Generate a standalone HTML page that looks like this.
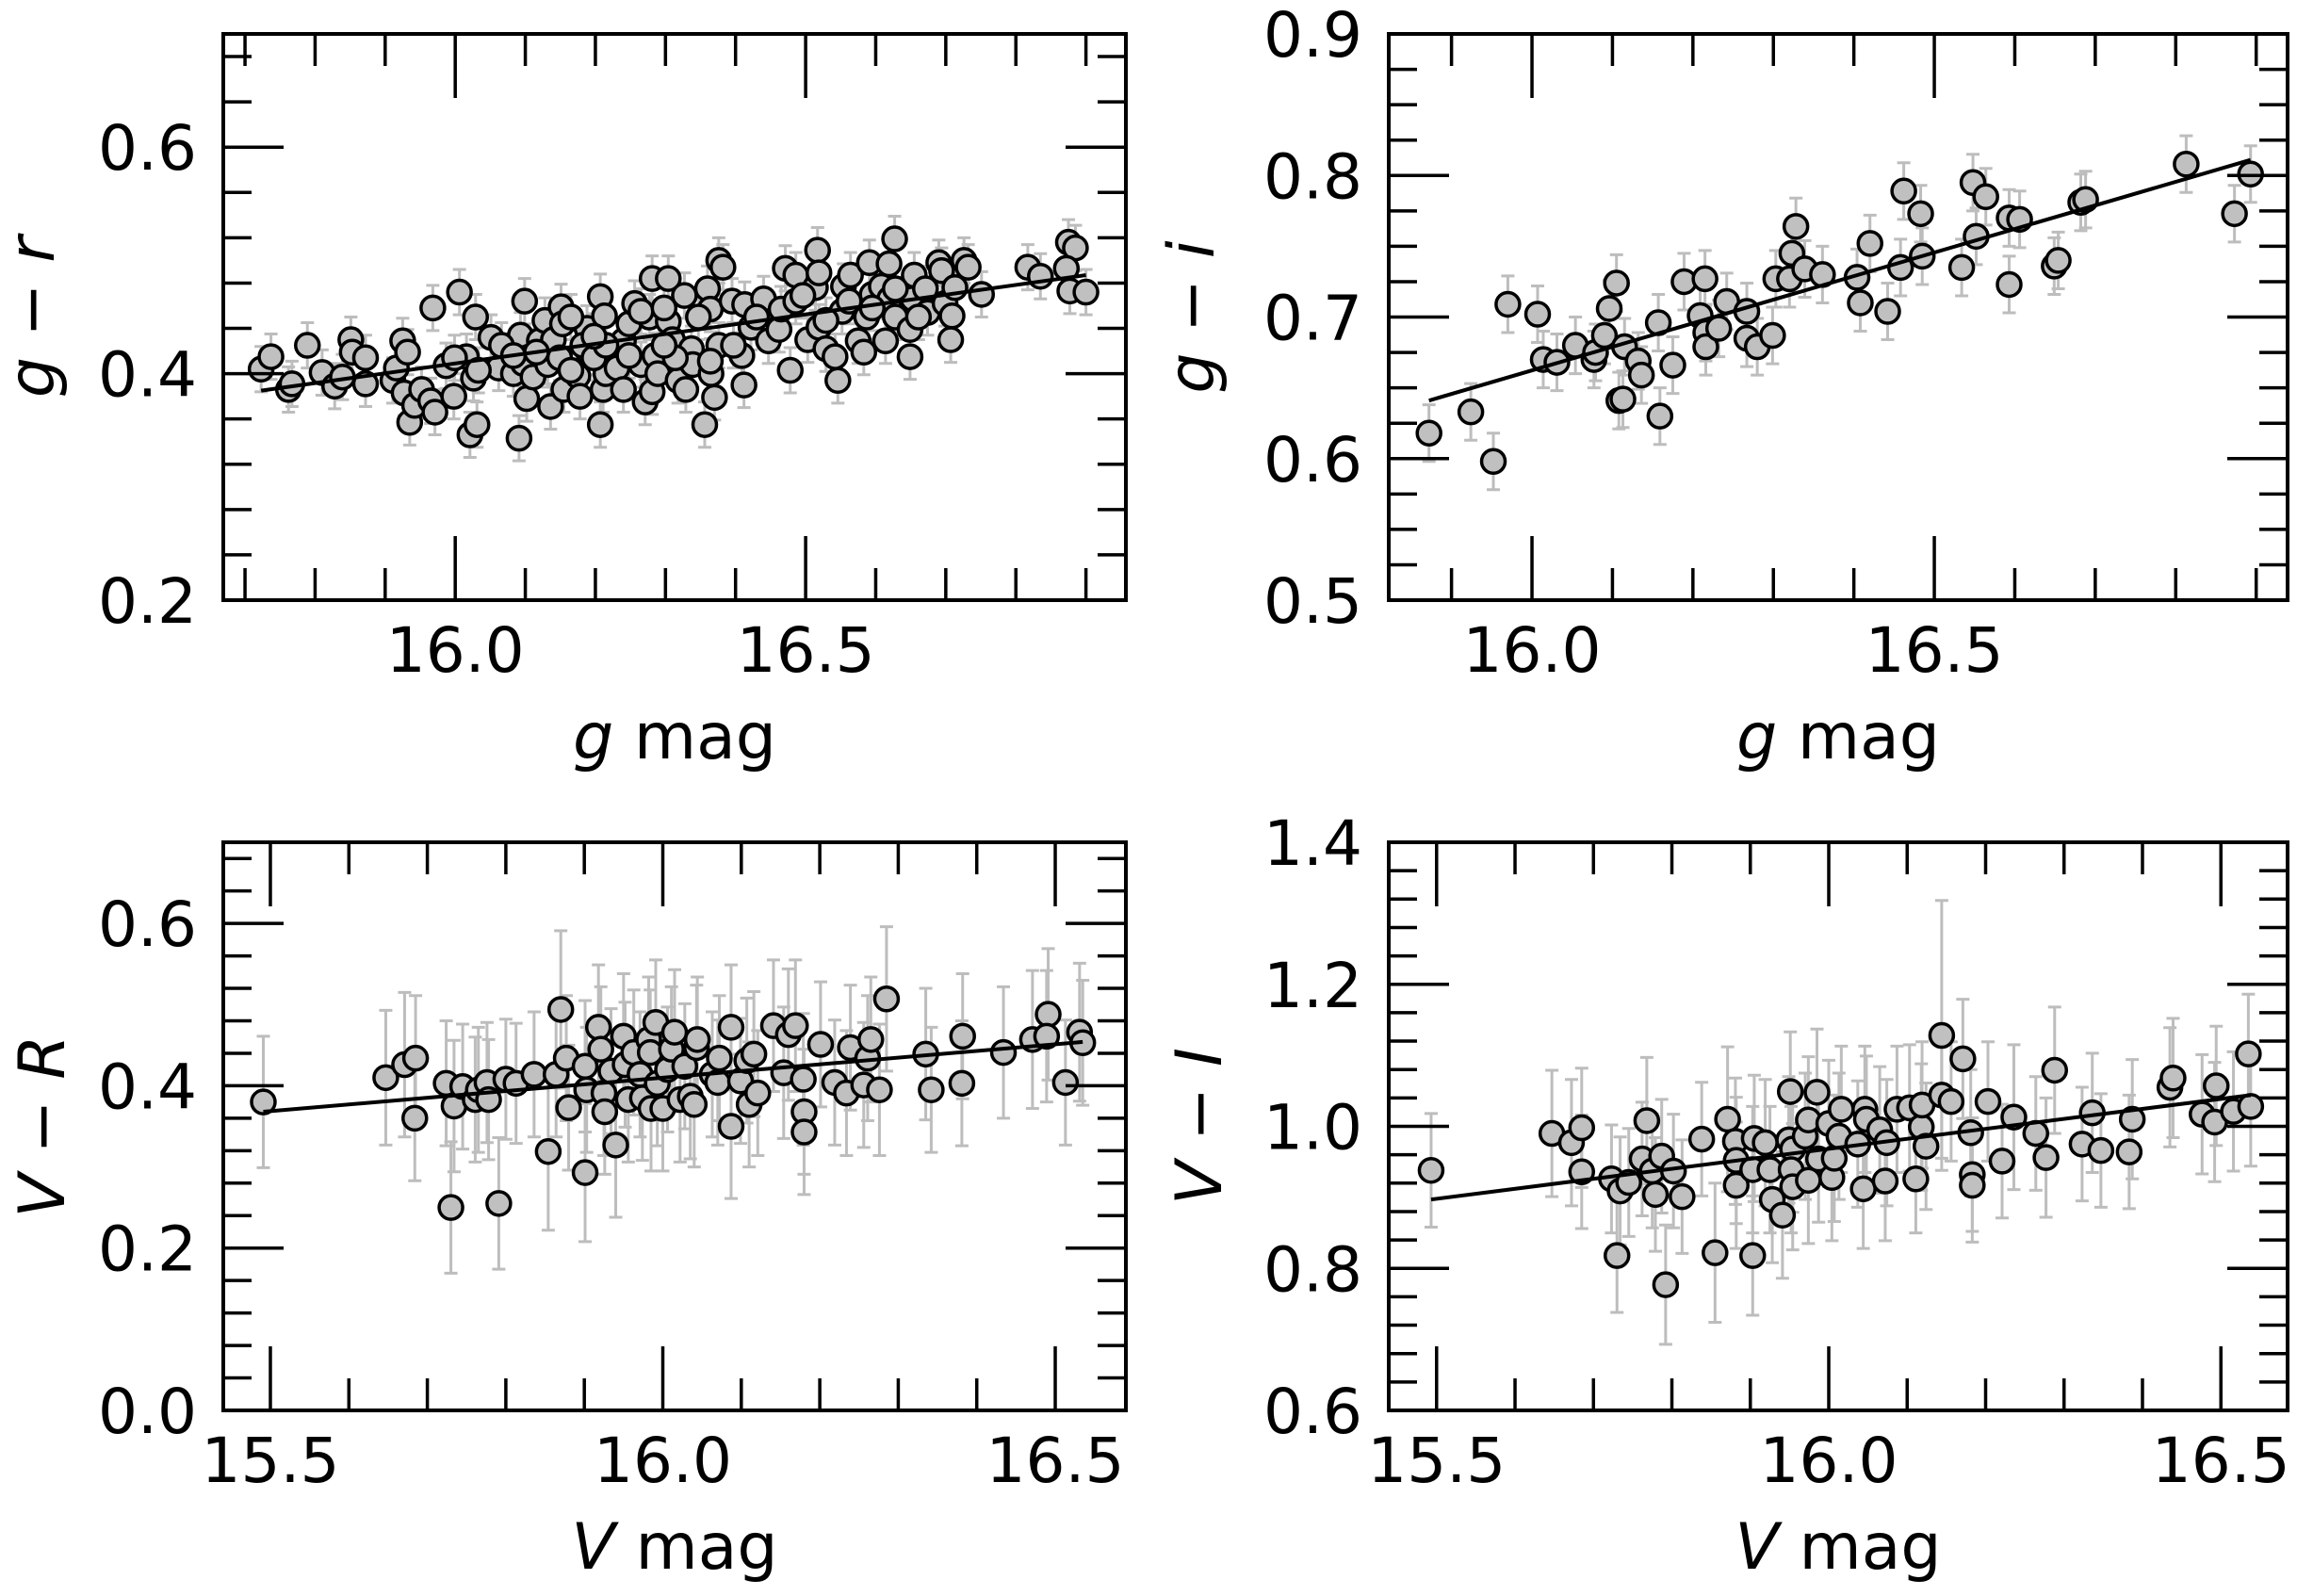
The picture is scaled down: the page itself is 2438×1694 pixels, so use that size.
<!DOCTYPE html>
<html><head><meta charset="utf-8"><style>
html,body{margin:0;padding:0;background:#fff;}
svg{display:block;}
text{font-family:"DejaVu Sans","Liberation Sans",sans-serif;fill:#000;}
</style></head><body>
<svg id="fig" width="2438" height="1694" viewBox="0 0 2438 1694" xmlns="http://www.w3.org/2000/svg"></svg>
<script>
// ---- Panel A: g-r vs g ----
const grX = [15.723,15.737,15.762,15.767,15.789,15.810,15.828,15.839,15.851,15.853,15.872,15.872,15.911,15.916,15.925,15.932,15.927,15.935,15.942,15.952,15.965,15.971,15.968,15.987,15.998,16.006,16.016,16.026,16.029,16.021,16.031,16.051,16.062,16.083,16.091,16.093,16.097,16.099,16.102,16.111,16.120,16.128,16.132,16.136,16.140,16.151,16.153,16.155,16.175,16.178,16.188,16.190,16.207,16.207,16.211,16.213,16.215,16.231,16.240,16.248,16.256,16.265,16.271,16.277,16.281,16.281,16.285,16.289,16.304,16.304,16.310,16.318,16.327,16.329,16.337,16.339,16.356,16.360,16.364,16.365,16.370,16.376,16.382,16.376,16.395,16.409,16.412,16.413,16.422,16.440,16.447,16.462,16.465,16.471,16.478,16.486,16.486,16.503,16.514,16.517,16.519,16.519,16.529,16.542,16.546,16.552,16.554,16.564,16.575,16.583,16.587,16.591,16.595,16.608,16.614,16.619,16.620,16.627,16.628,16.649,16.649,16.653,16.655,16.671,16.674,16.690,16.694,16.699,16.707,16.709,16.713,16.726,16.732,16.751,16.817,16.835,16.875,16.885,16.872,16.877,16.900,16.066,16.116,16.165,16.182,16.198,16.215,16.248,16.265,16.298,16.314,16.347,16.364,16.397,16.430,16.496,16.529,16.562,16.595,16.628,16.661,16.033,16.083,15.999,16.149,16.298,16.240,16.198,16.165];
const grY = [0.404,0.415,0.386,0.391,0.425,0.401,0.389,0.397,0.430,0.419,0.414,0.391,0.394,0.405,0.429,0.419,0.383,0.357,0.372,0.386,0.376,0.366,0.458,0.407,0.380,0.472,0.415,0.396,0.450,0.346,0.355,0.432,0.405,0.400,0.343,0.434,0.409,0.464,0.378,0.397,0.429,0.447,0.408,0.371,0.430,0.459,0.444,0.386,0.398,0.380,0.440,0.419,0.468,0.355,0.386,0.451,0.400,0.405,0.429,0.444,0.462,0.408,0.375,0.450,0.484,0.384,0.416,0.400,0.484,0.446,0.430,0.394,0.469,0.386,0.422,0.408,0.355,0.475,0.457,0.400,0.379,0.500,0.494,0.425,0.464,0.416,0.390,0.461,0.441,0.466,0.429,0.439,0.457,0.493,0.403,0.487,0.464,0.430,0.476,0.509,0.489,0.441,0.422,0.415,0.394,0.455,0.477,0.487,0.429,0.419,0.450,0.498,0.470,0.477,0.429,0.497,0.466,0.519,0.450,0.439,0.415,0.466,0.487,0.475,0.454,0.498,0.491,0.462,0.430,0.451,0.476,0.500,0.494,0.470,0.494,0.486,0.516,0.511,0.493,0.473,0.472,0.425,0.419,0.450,0.425,0.414,0.425,0.416,0.455,0.458,0.414,0.450,0.411,0.425,0.450,0.469,0.447,0.464,0.458,0.475,0.450,0.403,0.416,0.414,0.414,0.425,0.386,0.433,0.403];
const grErr = 0.02;
const grFitX = [15.723,16.900];
const grFitY = [0.385,0.487];
const grXTicks = [16.0,16.5];
const grXTickLabels = ["16.0","16.5"];
const grYTicks = [0.2,0.4,0.6];
const grYTickLabels = ["0.2","0.4","0.6"];

// ---- Panel B: g-i vs g ----
const giX = [15.872,15.924,15.952,15.970,16.007,16.014,16.031,16.054,16.077,16.079,16.090,16.096,16.105,16.108,16.113,16.115,16.132,16.136,16.157,16.159,16.175,16.189,16.215,16.209,16.216,16.216,16.232,16.242,16.267,16.267,16.280,16.299,16.303,16.320,16.323,16.328,16.339,16.361,16.404,16.408,16.420,16.442,16.458,16.462,16.483,16.485,16.534,16.548,16.552,16.564,16.593,16.593,16.606,16.649,16.654,16.682,16.688,16.813,16.873,16.893];
const giY = [0.618,0.633,0.598,0.709,0.702,0.670,0.668,0.680,0.670,0.675,0.687,0.706,0.724,0.641,0.642,0.679,0.669,0.659,0.696,0.630,0.666,0.725,0.727,0.701,0.689,0.679,0.692,0.711,0.704,0.685,0.679,0.687,0.727,0.727,0.745,0.764,0.734,0.730,0.728,0.710,0.752,0.704,0.735,0.789,0.773,0.743,0.735,0.795,0.757,0.785,0.770,0.723,0.769,0.736,0.740,0.781,0.783,0.808,0.773,0.801];
const giErr = 0.02;
const giFitX = [15.872,16.893];
const giFitY = [0.641,0.811];
const giXTicks = [16.0,16.5];
const giXTickLabels = ["16.0","16.5"];
const giYTicks = [0.5,0.6,0.7,0.8,0.9];
const giYTickLabels = ["0.5","0.6","0.7","0.8","0.9"];

// ---- Panel C: V-R vs V ----
const vrX = [15.491,15.647,15.671,15.685,15.684,15.724,15.730,15.734,15.745,15.761,15.765,15.776,15.778,15.791,15.800,15.813,15.836,15.854,15.864,15.870,15.877,15.880,15.901,15.901,15.903,15.918,15.921,15.925,15.926,15.940,15.934,15.950,15.952,15.956,15.963,15.971,15.974,15.982,15.984,15.985,15.991,15.993,16.000,16.006,16.011,16.015,16.022,16.028,16.035,16.040,16.043,16.044,16.063,16.070,16.072,16.087,16.087,16.099,16.107,16.110,16.116,16.121,16.141,16.154,16.160,16.169,16.179,16.180,16.180,16.201,16.219,16.234,16.239,16.256,16.261,16.265,16.276,16.285,16.335,16.342,16.382,16.381,16.434,16.471,16.491,16.489,16.513,16.531,16.535];
const vrY = [0.380,0.410,0.426,0.434,0.360,0.403,0.250,0.375,0.399,0.383,0.395,0.404,0.383,0.255,0.408,0.403,0.414,0.319,0.414,0.494,0.434,0.373,0.424,0.293,0.395,0.472,0.445,0.391,0.368,0.327,0.418,0.461,0.426,0.383,0.441,0.414,0.385,0.457,0.441,0.372,0.478,0.403,0.372,0.420,0.445,0.466,0.383,0.424,0.387,0.377,0.447,0.457,0.414,0.404,0.434,0.472,0.350,0.406,0.431,0.377,0.439,0.391,0.474,0.416,0.463,0.474,0.408,0.368,0.343,0.451,0.404,0.391,0.447,0.401,0.434,0.457,0.395,0.507,0.439,0.395,0.461,0.403,0.441,0.457,0.488,0.461,0.404,0.466,0.453];
const vrErr = [0.081,0.083,0.089,0.077,0.077,0.077,0.081,0.081,0.077,0.077,0.077,0.074,0.074,0.081,0.074,0.074,0.077,0.097,0.077,0.097,0.077,0.077,0.081,0.085,0.077,0.077,0.077,0.077,0.077,0.089,0.077,0.077,0.077,0.077,0.077,0.077,0.077,0.077,0.077,0.077,0.077,0.077,0.077,0.077,0.077,0.077,0.077,0.077,0.077,0.077,0.077,0.077,0.077,0.077,0.077,0.077,0.089,0.077,0.077,0.077,0.077,0.077,0.081,0.081,0.081,0.081,0.081,0.077,0.077,0.077,0.077,0.077,0.077,0.077,0.077,0.077,0.081,0.089,0.081,0.077,0.077,0.077,0.081,0.085,0.081,0.081,0.077,0.085,0.077];
const vrFitX = [15.491,16.535];
const vrFitY = [0.368,0.454];
const vrXTicks = [15.5,16.0,16.5];
const vrXTickLabels = ["15.5","16.0","16.5"];
const vrYTicks = [0.0,0.2,0.4,0.6];
const vrYTickLabels = ["0.0","0.2","0.4","0.6"];

// ---- Panel D: V-I vs V ----
const viX = [15.493,15.647,15.672,15.685,15.685,15.723,15.730,15.734,15.745,15.762,15.768,15.775,15.779,15.787,15.792,15.802,15.813,15.838,15.855,15.871,15.881,15.882,15.882,15.903,15.903,15.905,15.919,15.925,15.928,15.941,15.951,15.949,15.954,15.952,15.954,15.970,15.974,15.974,15.985,15.987,16.000,16.004,16.007,16.013,16.016,16.037,16.044,16.046,16.048,16.065,16.072,16.074,16.087,16.103,16.111,16.118,16.119,16.124,16.144,16.144,16.156,16.171,16.181,16.183,16.183,16.203,16.221,16.236,16.264,16.277,16.288,16.323,16.336,16.347,16.383,16.387,16.435,16.439,16.476,16.492,16.494,16.516,16.535,16.538];
const viY = [0.938,0.990,0.977,0.998,0.936,0.926,0.818,0.909,0.921,0.954,1.008,0.937,0.904,0.958,0.777,0.937,0.901,0.982,0.822,1.010,0.979,0.917,0.952,0.818,0.939,0.983,0.977,0.939,0.897,0.875,1.049,0.981,0.968,0.939,0.915,0.986,1.009,0.924,1.048,0.954,1.004,0.928,0.955,0.986,1.024,0.975,0.912,1.024,1.010,0.995,0.923,0.977,1.024,1.026,0.926,0.999,1.030,0.972,1.128,1.044,1.035,1.095,0.991,0.932,0.917,1.035,0.951,1.013,0.990,0.956,1.079,0.975,1.019,0.966,0.964,1.010,1.055,1.068,1.017,1.006,1.057,1.021,1.102,1.028];
const viErr = [0.08,0.089,0.089,0.084,0.08,0.076,0.08,0.076,0.076,0.08,0.089,0.08,0.08,0.08,0.084,0.08,0.08,0.08,0.098,0.102,0.089,0.089,0.089,0.084,0.089,0.089,0.089,0.089,0.089,0.089,0.084,0.089,0.089,0.089,0.089,0.089,0.089,0.089,0.089,0.089,0.089,0.089,0.089,0.089,0.089,0.089,0.084,0.089,0.089,0.089,0.084,0.089,0.089,0.089,0.076,0.089,0.089,0.089,0.19,0.089,0.084,0.084,0.089,0.08,0.08,0.084,0.08,0.102,0.08,0.084,0.089,0.08,0.084,0.08,0.08,0.084,0.084,0.084,0.084,0.084,0.084,0.084,0.084,0.084];
const viFitX = [15.493,16.538];
const viFitY = [0.897,1.044];
const viXTicks = [15.5,16.0,16.5];
const viXTickLabels = ["15.5","16.0","16.5"];
const viYTicks = [0.6,0.8,1.0,1.2,1.4];
const viYTickLabels = ["0.6","0.8","1.0","1.2","1.4"];

const NS = "http://www.w3.org/2000/svg";
const svg = document.getElementById('fig');
function mk(tag, attrs, parent){
  const e = document.createElementNS(NS, tag);
  for (const k in attrs) e.setAttribute(k, attrs[k]);
  (parent||svg).appendChild(e);
  return e;
}
const panels = [
  {id:'gr', box:[237,36,1195,637], xl:[15.669,16.957], yl:[0.2,0.7], X:grX, Y:grY, E:grX.map(()=>grErr), fx:grFitX, fy:grFitY, xt:grXTicks, xtl:grXTickLabels, yt:grYTicks, ytl:grYTickLabels, xminor:0.1, yminor:0.04, xlab:['g',' mag'], ylab:['g','r'], ylabX:57},
  {id:'gi', box:[1474,36,2428,637], xl:[15.822,16.939], yl:[0.5,0.9], X:giX, Y:giY, E:giX.map(()=>giErr), fx:giFitX, fy:giFitY, xt:giXTicks, xtl:giXTickLabels, yt:giYTicks, ytl:giYTickLabels, xminor:0.1, yminor:0.025, xlab:['g',' mag'], ylab:['g','i'], ylabX:1288},
  {id:'vr', box:[237,894,1195,1497], xl:[15.44,16.59], yl:[0.0,0.7], X:vrX, Y:vrY, E:vrErr, fx:vrFitX, fy:vrFitY, xt:vrXTicks, xtl:vrXTickLabels, yt:vrYTicks, ytl:vrYTickLabels, xminor:0.1, yminor:0.04, xlab:['V',' mag'], ylab:['V','R'], ylabX:68},
  {id:'vi', box:[1474,894,2428,1497], xl:[15.439,16.585], yl:[0.6,1.4], X:viX, Y:viY, E:viErr, fx:viFitX, fy:viFitY, xt:viXTicks, xtl:viXTickLabels, yt:viYTicks, ytl:viYTickLabels, xminor:0.1, yminor:0.04, xlab:['V',' mag'], ylab:['V','I'], ylabX:1296}
];
panels.forEach(p=>{
  const [L,T,R,B] = p.box;
  const sx = v => L + (v-p.xl[0])/(p.xl[1]-p.xl[0])*(R-L);
  const sy = v => B - (v-p.yl[0])/(p.yl[1]-p.yl[0])*(B-T);
  const g = mk('g', {});
  
  
  const eg = mk('g', {stroke:'#bdbdbd','stroke-width':3,fill:'none'}, g);
  
  
  p.X.forEach((x,i)=>{
    const cx = sx(x), y1 = sy(p.Y[i]-p.E[i]), y2 = sy(p.Y[i]+p.E[i]);
    const e = mk('path', {d:`M${cx},${y1}V${y2}M${cx-7},${y1}H${cx+7}M${cx-7},${y2}H${cx+7}`}, eg);
    
    
  });
  const pg = mk('g', {fill:'#c0c0c0',stroke:'#000','stroke-width':3.5}, g);
  
  
  p.X.forEach((x,i)=>{
    const c = mk('circle', {cx:sx(x), cy:sy(p.Y[i]), r:12.5}, pg);
    
    
  });
  const fl = mk('line', {x1:sx(p.fx[0]), y1:sy(p.fy[0]), x2:sx(p.fx[1]), y2:sy(p.fy[1]), stroke:'#000','stroke-width':4}, g);
  
  
  const tg = mk('g', {stroke:'#000','stroke-width':3.5}, g);
  
  
  let d = '';
  const x0 = Math.ceil(p.xl[0]/p.xminor-1e-6);
  for (let k=x0; k*p.xminor<=p.xl[1]+1e-9; k++){
    const v = k*p.xminor, X = sx(v);
    const major = p.xt.some(t=>Math.abs(t-v)<1e-6);
    const len = major?68:34;
    d += `M${X},${B}v${-len}M${X},${T}v${len}`;
  }
  const y0 = Math.ceil(p.yl[0]/p.yminor-1e-6);
  for (let k=y0; k*p.yminor<=p.yl[1]+1e-9; k++){
    const v = k*p.yminor, Y = sy(v);
    const major = p.yt.some(t=>Math.abs(t-v)<1e-6);
    const len = major?64:30;
    d += `M${L},${Y}h${len}M${R},${Y}h${-len}`;
  }
  mk('path', {d:d}, tg);
  const fr = mk('rect', {x:L, y:T, width:R-L, height:B-T, fill:'none', stroke:'#000','stroke-width':4}, g);
  
  
  p.xt.forEach((t,i)=>{
    const tx = mk('text', {x:sx(t), y:B+76, 'font-size':66, 'text-anchor':'middle'}, g);
    tx.textContent = p.xtl[i];
    
    
  });
  p.yt.forEach((t,i)=>{
    const tx = mk('text', {x:L-28, y:sy(t)+24, 'font-size':66, 'text-anchor':'end'}, g);
    tx.textContent = p.ytl[i];
    
    
  });
  const xt = mk('text', {x:(L+R)/2, y:B+168, 'font-size':68, 'text-anchor':'middle'}, g);
  
  
  const s1 = mk('tspan', {'font-style':'italic'}, xt); s1.textContent = p.xlab[0];
  const s2 = mk('tspan', {}, xt); s2.textContent = p.xlab[1];
  const cy = (T+B)/2;
  const yt = mk('text', {x:p.ylabX, y:cy, 'font-size':68, 'text-anchor':'middle', transform:`rotate(-90 ${p.ylabX} ${cy})`}, g);
  
  
  const a = mk('tspan', {'font-style':'italic'}, yt); a.textContent = p.ylab[0];
  const m = mk('tspan', {}, yt); m.textContent = ' \u2212 ';
  const b = mk('tspan', {'font-style':'italic'}, yt); b.textContent = p.ylab[1];
});
</script>
</body></html>
